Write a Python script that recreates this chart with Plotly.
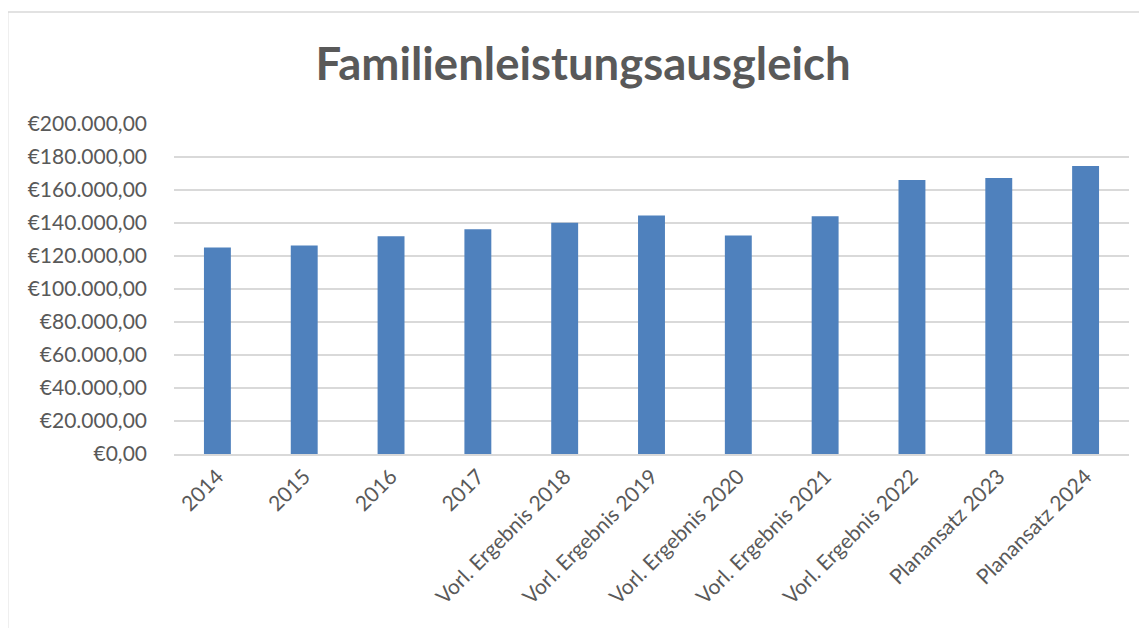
import plotly.graph_objects as go

categories = ["2014", "2015", "2016", "2017", "Vorl. Ergebnis 2018", "Vorl. Ergebnis 2019",
              "Vorl. Ergebnis 2020", "Vorl. Ergebnis 2021", "Vorl. Ergebnis 2022",
              "Planansatz 2023", "Planansatz 2024"]
values = [125100, 126300, 131900, 136200, 140200, 144500, 132500, 144100, 166100, 167200, 174500]
y_ticks = [0, 20000, 40000, 60000, 80000, 100000, 120000, 140000, 160000, 180000, 200000]
y_tick_labels = ["€0,00", "€20.000,00", "€40.000,00", "€60.000,00", "€80.000,00", "€100.000,00",
                 "€120.000,00", "€140.000,00", "€160.000,00", "€180.000,00", "€200.000,00"]

OFF = 8  # page body margin
W, H = 1147 - OFF, 628 - OFF
L, R, T, B = 173.5 - OFF, 17.5, 124 - OFF, 174
pw, ph = W - L - R, H - T - B

fig = go.Figure(go.Bar(x=categories, y=values, marker=dict(color="#4f81bd", line=dict(width=0)),
                       width=0.31))

font_fam = "Lato, 'Open Sans', sans-serif"
fig.update_layout(
    width=W, height=H,
    margin=dict(l=L, r=R, t=T, b=B, autoexpand=False),
    paper_bgcolor="white", plot_bgcolor="white",
    title=dict(text="<b>Familienleistungsausgleich</b>", x=(583 - OFF - L) / pw, xref="paper",
               xanchor="center", y=1 - (64 - OFF) / H, yanchor="middle",
               font=dict(family=font_fam, size=45.5, color="#595959")),
    xaxis=dict(tickangle=-45, tickfont=dict(family=font_fam, size=21, color="#595959"),
               showgrid=False, showline=True, linecolor="#d9d9d9", linewidth=2, ticks="",
               range=[-0.5, 10.5]),
    yaxis=dict(range=[0, 200000], tickvals=y_ticks, ticktext=y_tick_labels,
               tickfont=dict(family=font_fam, size=21, color="#595959"),
               showgrid=True, gridcolor="#d9d9d9", gridwidth=1.5, zeroline=False,
               showline=False, ticks="", ticklabelstandoff=26),
    showlegend=False,
    shapes=[dict(type="rect", xref="paper", yref="paper",
                 x0=(7 - OFF - L) / pw, x1=(W + 20 - L) / pw,
                 y0=-(H + 20 - T - ph) / ph, y1=1 + (T - (12 - OFF)) / ph,
                 line=dict(color="#d9d9d9", width=1.5), layer="below")],
)

fig.write_html("out.html")
